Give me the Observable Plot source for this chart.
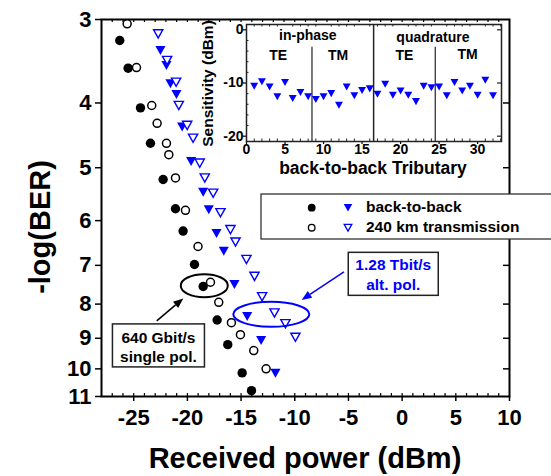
<!DOCTYPE html>
<html><head><meta charset="utf-8">
<script src="https://cdn.jsdelivr.net/npm/d3@7"></script>
<script src="https://cdn.jsdelivr.net/npm/@observablehq/plot@0.6"></script>
<style>
body{margin:0;background:#fff;}
#wrap{position:relative;width:551px;height:476px;overflow:hidden;}
#inset{position:absolute;left:190px;top:14px;}
</style></head><body><div id="wrap"><div id="main"></div><div id="inset"></div></div>
<script>
const FONT = '"Liberation Sans", Arial, Helvetica, sans-serif';
const BLUE = "#0000ff";

// 640 Gbit/s single pol. — circles
const singleB2bPower  = [-26.30,-25.52,-24.37,-23.44,-22.26,-21.11,-20.40,-19.34,-18.53,-17.23,-16.24,-14.90,-14.03];
const singleB2bLogBER = [3.225,3.548,4.068,4.596,5.207,5.76,6.22,6.98,7.53,8.45,9.20,10.14,10.78];
const single240Power  = [-25.61,-24.74,-23.32,-22.82,-21.95,-21.73,-21.11,-20.18,-19.01,-17.85,-17.08,-15.90,-15.06,-13.82,-12.67];
const single240LogBER = [3.045,3.54,4.035,4.29,4.596,4.78,5.18,5.79,6.56,7.42,7.95,8.53,8.89,9.39,10.0];
// 1.28 Tbit/s alt. pol. — triangles
const altB2bPower  = [-22.51,-21.95,-21.58,-21.02,-20.49,-19.65,-18.53,-18.01,-17.29,-16.61,-15.62,-14.43,-13.13,-11.80];
const altB2bLogBER = [3.338,3.516,3.745,3.886,4.347,4.893,5.44,5.78,6.27,6.67,7.48,8.35,9.07,10.15];
const alt240Power  = [-22.72,-21.89,-21.05,-20.80,-20.02,-19.47,-18.85,-18.38,-17.60,-16.92,-15.99,-15.52,-14.50,-13.75,-13.04,-11.89,-10.87,-9.94];
const alt240LogBER = [3.152,3.455,3.724,4.035,4.322,4.517,4.922,5.18,5.46,5.84,6.19,6.46,6.86,7.27,7.80,8.25,8.56,8.97];

const xTicks = [-25,-20,-15,-10,-5,0,5,10];
const xMinor = [-27,-26,-25,-24,-23,-22,-21,-20,-19,-18,-17,-16,-15,-14,-13,-12,-11,-10,-9,-8,-7,-6,-5,-4,-3,-2,-1,0,1,2,3,4,5,6,7,8,9];
const yTicks = [3,4,5,6,7,8,9,10,11];
const legendLabels = ["back-to-back","240 km transmission"];

// inset
const tributary   = [1,2,3,4,5,6,7,8,9,10,11,12,13,14,15,16,17,18,19,20,21,22,23,24,25,26,27,28,29,30,31,32];
const sensitivity = [-10.6,-9.75,-10.75,-12.6,-9.9,-12.9,-11.8,-12.6,-13.1,-12.6,-12.0,-14.2,-10.75,-12.4,-11.4,-11.1,-12.1,-10.25,-12.3,-11.5,-12.3,-13.5,-10.6,-10.9,-10.75,-12.4,-9.9,-11.5,-10.6,-12.3,-9.5,-12.4];
const insetXTicks = [0,5,10,15,20,25,30];
const insetYTicks = [0,-10,-20];
const insetXMinor = [1,2,3,4,6,7,8,9,11,12,13,14,16,17,18,19,21,22,23,24,26,27,28,29,31,32,33];
const insetYMinor = [-18,-16,-14,-12,-8,-6,-4,-2];
const insetLabels = [
  {x: 7.96, y: -1.0, text: "in-phase"},
  {x: 24.2, y: -1.5, text: "quadrature"},
  {x: 4.1,  y: -4.9, text: "TE"},
  {x: 11.9, y: -4.9, text: "TM"},
  {x: 20.5, y: -4.9, text: "TE"},
  {x: 28.7, y: -4.6, text: "TM"}
];

const rows = (xs, ys) => xs.map((x, i) => ({x, y: ys[i]}));
const triDown = {draw(ctx, size) {
  const r = Math.sqrt(size / Math.PI), w = r * 1.1, h = r * 0.98;
  ctx.moveTo(-w, -h); ctx.lineTo(w, -h); ctx.lineTo(0, h); ctx.closePath();
}};
const triPath = (cx, cy, w, h) => `M${cx-w},${cy-h}L${cx+w},${cy-h}L${cx},${cy+h}Z`;

const W = 551, H = 476, ML = 101, MR = 42, MT = 19, MB = 80;
const FW = W - ML - MR, FH = H - MT - MB;

function arrow(g, x1, y1, x2, y2, color) {
  const a = Math.atan2(y2 - y1, x2 - x1), L = 10, hw = 4;
  const bx = x2 - L * Math.cos(a), by = y2 - L * Math.sin(a);
  g.append("line").attr("x1", x1).attr("y1", y1).attr("x2", bx).attr("y2", by)
    .attr("stroke", color).attr("stroke-width", 1.5);
  g.append("path").attr("d", `M${x2},${y2}L${bx + hw*Math.sin(a)},${by - hw*Math.cos(a)}L${bx - hw*Math.sin(a)},${by + hw*Math.cos(a)}Z`)
    .attr("fill", color);
}

function annotations(index, scales) {
  const {x, y} = scales;
  const g = d3.create("svg:g").attr("font-family", FONT).attr("font-weight", "bold");
  g.append("ellipse").attr("cx", x(-18.38)).attr("cy", y(7.52)).attr("rx", 23.5).attr("ry", 11.5)
    .attr("fill", "none").attr("stroke", "black").attr("stroke-width", 2);
  g.append("ellipse").attr("cx", x(-12.14)).attr("cy", y(8.30)).attr("rx", 38).attr("ry", 12.5)
    .attr("fill", "none").attr("stroke", BLUE).attr("stroke-width", 2);
  arrow(g, x(-22.81), y(8.49), x(-20.34), y(7.86), "black");
  arrow(g, x(-5.37), y(7.17), x(-9.31), y(7.90), BLUE);
  const box = (cx, cy, w, h, lines, color, offs) => {
    g.append("rect").attr("x", cx - w/2).attr("y", cy - h/2).attr("width", w).attr("height", h)
      .attr("fill", "white").attr("stroke", "#222").attr("stroke-width", 1.5);
    lines.forEach((t, i) => g.append("text").attr("x", cx).attr("y", cy + offs[i]).attr("text-anchor", "middle")
      .attr("font-size", 15.5).attr("fill", color).text(t));
  };
  box(x(-22.65), y(9.24), 92, 43, ["640 Gbit/s", "single pol."], "black", [-2, 17]);
  box(x(-0.78), y(7.22), 90, 43, ["1.28 Tbit/s", "alt. pol."], BLUE, [-3.5, 15.8]);
  // axis titles
  g.append("text").attr("transform", "translate(50,227) rotate(-90)").attr("text-anchor", "middle")
    .attr("font-size", 29).attr("fill", "black").text("-log(BER)");
  g.append("text").attr("x", 305).attr("y", 468).attr("text-anchor", "middle")
    .attr("font-size", 29).attr("fill", "black").text("Received power (dBm)");
  return g.node();
}

function legend() {
  const g = d3.create("svg:g").attr("font-family", FONT).attr("font-weight", "bold").attr("font-size", 15.5);
  g.append("rect").attr("x", 261).attr("y", 194).attr("width", 300).attr("height", 45)
    .attr("fill", "white").attr("stroke", "#333").attr("stroke-width", 1.3);
  const rowsY = [207.7, 227.7];
  g.append("circle").attr("cx", 311.7).attr("cy", rowsY[0]).attr("r", 3.9).attr("fill", "black");
  g.append("circle").attr("cx", 311.7).attr("cy", rowsY[1]).attr("r", 3.3).attr("fill", "white").attr("stroke", "black").attr("stroke-width", 1.3);
  g.append("path").attr("d", triPath(348, rowsY[0], 4.3, 3.8)).attr("fill", BLUE);
  g.append("path").attr("d", triPath(348, rowsY[1], 3.8, 3.4)).attr("fill", "white").attr("stroke", BLUE).attr("stroke-width", 1.3);
  legendLabels.forEach((t, i) => g.append("text").attr("x", 366).attr("y", rowsY[i] + 4.7)
    .attr("text-anchor", "start").attr("fill", "black").text(t));
  return g.node();
}

const main = Plot.plot({
  width: W, height: H, marginLeft: ML, marginRight: MR, marginTop: MT, marginBottom: MB,
  style: {fontFamily: FONT, fontWeight: "bold", color: "black", background: "white", overflow: "visible"},
  x: {domain: [-28, 10]},
  y: {type: "log", domain: [3, 11], reverse: true},
  marks: [
    Plot.tickX(xMinor, {x: d => d, insetTop: FH - 3, stroke: "black", strokeWidth: 1.2}),
    Plot.tickX(xMinor, {x: d => d, insetBottom: FH - 3, stroke: "black", strokeWidth: 1.2}),
    Plot.tickY(yTicks.slice(1, -1), {y: d => d, insetLeft: FW - 6, stroke: "black", strokeWidth: 1.5}),
    Plot.axisX({ticks: xTicks, tickFormat: d => String(d), tickSize: 5, tickPadding: 8, fontSize: 22, fontWeight: "bold", label: null, strokeWidth: 1.5}),
    Plot.axisY({ticks: yTicks, tickFormat: d => String(d), tickSize: 6, tickPadding: 4, fontSize: 22, fontWeight: "bold", label: null, strokeWidth: 1.5}),
    Plot.frame({stroke: "black", strokeWidth: 2}),
    Plot.dot(rows(singleB2bPower, singleB2bLogBER), {x: "x", y: "y", r: 4.7, fill: "black", stroke: "none"}),
    Plot.dot(rows(altB2bPower, altB2bLogBER), {x: "x", y: "y", r: 4.6, symbol: triDown, fill: BLUE, stroke: "none"}),
    Plot.dot(rows(single240Power, single240LogBER), {x: "x", y: "y", r: 4.0, fill: "white", stroke: "black", strokeWidth: 1.5}),
    Plot.dot(rows(alt240Power, alt240LogBER), {x: "x", y: "y", r: 4.2, symbol: triDown, fill: "white", stroke: BLUE, strokeWidth: 1.4}),
    annotations,
    legend
  ]
});
document.getElementById("main").append(main);

const IW = 320, IH = 170, IML = 56, IMR = 9, IMT = 10, IMB = 43;
const IFW = IW - IML - IMR, IFH = IH - IMT - IMB;
function insetTitles() {
  const g = d3.create("svg:g").attr("font-family", FONT).attr("font-weight", "bold").attr("fill", "black");
  g.append("text").attr("transform", "translate(23.3,69.5) rotate(-90)").attr("text-anchor", "middle")
    .attr("font-size", 15.5).text("Sensitivity (dBm)");
  g.append("text").attr("x", 183).attr("y", 159.5).attr("text-anchor", "middle")
    .attr("font-size", 17.5).text("back-to-back Tributary");
  return g.node();
}
const inset = Plot.plot({
  width: IW, height: IH, marginLeft: IML, marginRight: IMR, marginTop: IMT, marginBottom: IMB,
  style: {fontFamily: FONT, fontWeight: "bold", color: "black", background: "transparent", overflow: "visible"},
  x: {domain: [0, 33.1]},
  y: {domain: [-21, 1]},
  marks: [
    Plot.tickX(insetXMinor, {x: d => d, insetBottom: IFH - 2.5, stroke: "#222", strokeWidth: 1}),
    Plot.tickX(insetXMinor, {x: d => d, insetTop: IFH - 2.5, stroke: "#222", strokeWidth: 1}),
    Plot.tickY(insetYMinor, {y: d => d, insetRight: IFW - 2.5, stroke: "#222", strokeWidth: 1}),
    Plot.tickY(insetYTicks, {y: d => d, insetLeft: IFW - 4, stroke: "#222", strokeWidth: 1.2}),
    Plot.axisX({ticks: insetXTicks, tickFormat: d => String(d), tickSize: 3, tickPadding: 0, fontSize: 14, fontWeight: "bold", label: null, strokeWidth: 1.2}),
    Plot.axisY({ticks: insetYTicks, tickFormat: d => String(d), tickSize: 3, tickPadding: 0, fontSize: 14, fontWeight: "bold", label: null, strokeWidth: 1.2}),
    Plot.ruleX([8.5, 24.5], {x: d => d, y1: d => -21, y2: d => -3.3, stroke: "#222", strokeWidth: 1.2}),
    Plot.ruleX([16.5], {x: d => d, stroke: "#222", strokeWidth: 1.5}),
    Plot.frame({stroke: "#222", strokeWidth: 1.5}),
    Plot.dot(rows(tributary, sensitivity), {x: "x", y: "y", r: 3.6, symbol: triDown, fill: BLUE, stroke: "none"}),
    Plot.text(insetLabels, {x: "x", y: "y", text: "text", fontSize: 14, fontWeight: "bold", fill: "black"}),
    insetTitles
  ]
});
document.getElementById("inset").append(inset);
</script></body></html>
